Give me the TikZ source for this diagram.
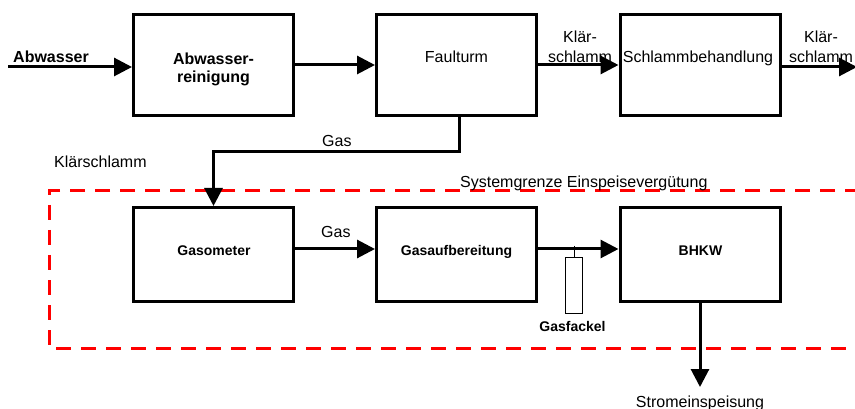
\documentclass[tikz,border=0pt]{standalone}
\usepackage{fontspec}
\setmainfont{Liberation Sans}
\usetikzlibrary{arrows.meta}
\begin{document}
\begin{tikzpicture}[x=1pt,y=-1pt,
  box/.style={draw, line width=3pt, minimum width=160pt, minimum height=101pt, inner sep=0pt},
  lbox/.style={box, minimum height=94pt},
  arr/.style={line width=3pt, -{Triangle[length=18pt,width=18pt]}},
  txt/.style={font=\fontsize{16}{18}\selectfont, inner sep=0pt},
  ttxt/.style={font=\fontsize{16}{20}\selectfont, inner sep=0pt},
  btxt/.style={font=\fontsize{16}{18}\selectfont\bfseries, inner sep=0pt},
  stxt/.style={font=\fontsize{14}{16}\selectfont\bfseries, inner sep=0pt},
  grenze/.style={draw=red, line width=3pt, dash pattern=on 15pt off 10pt},
  fackel/.style={draw, line width=1pt}]
\useasboundingbox (0,0) rectangle (855,409);

% boundary
\draw[grenze] (860,191) -- (49,191) -- (49,348) -- (860,348);

% boxes
\node[box] (abw) at (213.5,65) {};
\node[box] (faul) at (456.5,65) {};
\node[box] (schl) at (700,65) {};
\node[lbox] (gasom) at (213.5,254.5) {};
\node[lbox] (gasauf) at (456.5,254.5) {};
\node[lbox] (bhkw) at (700,254.5) {};

% box texts
\node[btxt, anchor=base, align=center] (tabw) at (213.5,83) {Abwasser-\\reinigung};
\node[txt, anchor=base] (tfaul) at (456.5,63) {Faulturm};
\node[txt, anchor=base] (tschl) at (698,63) {Schlammbehandlung};
\node[stxt, anchor=base] (tgasom) at (214,255) {Gasometer};
\node[stxt, anchor=base] (tgasauf) at (456.5,255) {Gasaufbereitung};
\node[stxt, anchor=base] (tbhkw) at (700.5,255) {BHKW};

% coordinates
\coordinate (in) at (8,67);
\coordinate (out) at (857,67);
\coordinate (gl) at (0,152);
\coordinate (ly) at (0,249);
\coordinate (sy) at (0,387);

% connectors
\draw[arr] (in) -- (in -| abw.west);
\draw[arr] (abw.east) -- (faul.west);
\draw[arr] (faul.east) -- (schl.west);
\draw[arr] (schl.east |- out) -- (out);
\draw[arr] ([xshift=2.5pt]faul.south) -- ([xshift=2.5pt]faul.south |- gl) -- (gasom.north |- gl) -- (gasom.north);
\draw[arr] (gasom.east |- ly) -- (gasauf.west |- ly);
\draw[arr] (gasauf.east |- ly) -- (bhkw.west |- ly);
\draw[arr] (bhkw.south) -- (bhkw.south |- sy);

% Gasfackel
\node[fackel, minimum width=17pt, minimum height=56pt, inner sep=0pt] (fack) at (574,285.5) {};
\coordinate (tick) at (574,246);
\draw[line width=1pt] (tick) -- (fack.north);
\node[stxt, anchor=base] (tfack) at (572.5,331) {Gasfackel};

% labels
\node[btxt, anchor=base west] (labw) at (13,63) {Abwasser};
\node[ttxt, anchor=base, align=center] (lk1) at (580,63) {Klär-\\schlamm};
\node[ttxt, anchor=base, align=center] (lk2) at (821,63) {Klär-\\schlamm};
\node[txt, anchor=base west] (lgas1) at (322,147) {Gas};
\node[txt, anchor=base west] (lks) at (54,168) {Klärschlamm};
\node[txt, anchor=base west] (lgas2) at (321,237) {Gas};
\node[txt, anchor=base west] (lsys) at (460,188) {Systemgrenze Einspeisevergütung};
\node[txt, anchor=base] (lstrom) at (700,407.5) {Stromeinspeisung};
\end{tikzpicture}
\end{document}
